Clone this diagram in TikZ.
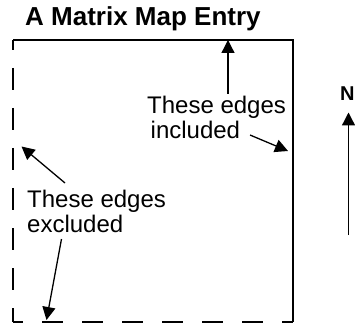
\documentclass[tikz,border=0pt]{standalone}
\usepackage{fontspec}
\setmainfont{Liberation Sans}
\usetikzlibrary{arrows.meta}

\tikzset{
  note/.style={inner sep=0pt,anchor=base west,align=left,font=\fontsize{24}{25}\selectfont},
  pointer/.style={line width=1.3pt,-{Triangle[length=13pt,width=13pt]}},
  edge/.style={line width=2pt},
}

\begin{document}
\begin{tikzpicture}[x=1pt,y=-1pt]
  \useasboundingbox (0,0) rectangle (355,328);

  % Title and north label.
  \node[inner sep=0pt,anchor=base west,font=\bfseries\fontsize{26}{30}\selectfont] (title) at (25,25.5) {A Matrix Map Entry};
  \node[inner sep=0pt,anchor=base west,font=\bfseries\fontsize{20}{24}\selectfont] (north) at (340,101) {N};

  % The entry: top and right solid, left and bottom dashed.
  \path[draw,edge] (13,40) -- (293,40) -- (293,322);
  \path[draw,edge,dash pattern=on 22pt off 18pt,dash phase=12pt] (13,40) -- (13,322);
  \path[draw,edge,dash pattern=on 21pt off 19pt,dash phase=11pt] (13,322) -- (293,322);

  % Labels (base = last line).
  \node[note] (incl) at (147,138.5) {These edges\\\hspace*{3.5pt}included};
  \node[note] (excl) at (27,233) {These edges\\excluded};

  % Arrow ends.
  \coordinate (inclTop) at (228,94);
  \coordinate (topTip) at (228,40);
  \coordinate (inclRight) at (250,135);
  \coordinate (rightTip) at (288,151);
  \coordinate (exclTop) at (65,183);
  \coordinate (leftTip) at (21.5,146.5);
  \coordinate (exclBottom) at (61.5,239);
  \coordinate (bottomTip) at (46.5,320);
  \coordinate (northFoot) at (348.5,235);
  \coordinate (northTip) at (348.5,112.5);

  \draw[pointer] (inclTop) -- (topTip);
  \draw[pointer] (inclRight) -- (rightTip);
  \draw[pointer] (exclTop) -- (leftTip);
  \draw[pointer] (exclBottom) -- (bottomTip);
  \draw[pointer] (northFoot) -- (northTip);
\end{tikzpicture}
\end{document}
